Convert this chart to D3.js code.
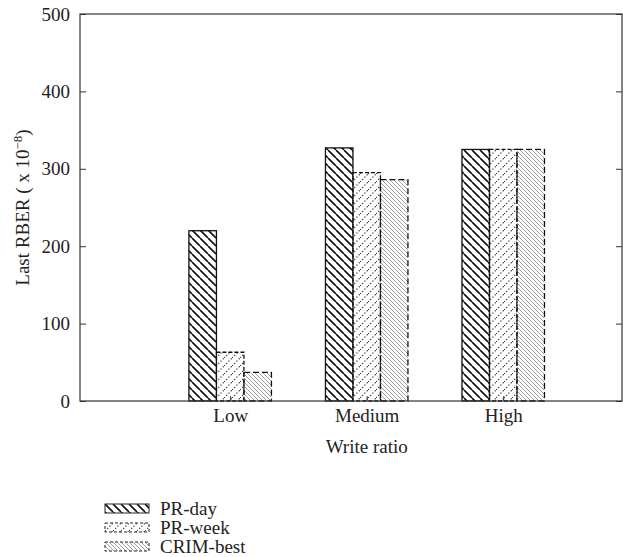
<!DOCTYPE html>
<html>
<head>
<meta charset="utf-8">
<script src="https://cdn.jsdelivr.net/npm/d3@7"></script>
<style>
  body { margin: 0; background: #fff; }
  text { font-family: "Liberation Serif", "DejaVu Serif", serif; fill: #222; }
</style>
</head>
<body>
<svg width="623" height="557"></svg>
<script>
// Data
var categories = ['Low', 'Medium', 'High']
var series = ['PR-day', 'PR-week', 'CRIM-best']
var prDay = [220, 327, 325]
var prWeek = [63, 295, 325]
var crimBest = [37, 286, 325]
var yTicks = [0, 100, 200, 300, 400, 500]

var values = [prDay, prWeek, crimBest]

var svg = d3.select('svg')
var margin = { left: 80, right: 1, top: 14, bottom: 156 }
var width = 623 - margin.left - margin.right
var height = 557 - margin.top - margin.bottom
var fs = '19px'

// Patterns
var defs = svg.append('defs')
function hatch(id, size, dir, stroke, sw, dash) {
  var p = defs.append('pattern')
    .attr('id', id)
    .attr('patternUnits', 'userSpaceOnUse')
    .attr('width', size)
    .attr('height', size)
  var d = dir === 'back'
    ? 'M0,0 L' + size + ',' + size + ' M-' + size + ',0 L0,' + size + ' M0,-' + size + ' L' + size + ',0'
    : 'M0,' + size + ' L' + size + ',0 M-' + size + ',' + size + ' L0,0 M0,' + 2 * size + ' L' + 2 * size + ',0'
  p.append('path')
    .attr('d', d)
    .attr('stroke', stroke)
    .attr('stroke-width', sw)
    .attr('stroke-dasharray', dash || null)
    .attr('fill', 'none')
}
hatch('p0', 8, 'back', '#111', 1.6)
hatch('p1', 8, 'fwd', '#333', 1.2, '1.2,2')
hatch('p2', 4, 'back', '#888', 0.8)

var fills = ['url(#p0)', 'url(#p1)', 'url(#p2)']
var borders = [null, '4,2', '6,3']

var g = svg.append('g').attr('transform', 'translate(' + margin.left + ',' + margin.top + ')')

// Scales
var x = d3.scaleLinear().domain([-0.1, 3.87]).range([0, width])
var xCat = function(i) { return x(i + 1) }
var y = d3.scaleLinear().domain([0, 500]).range([height, 0])
var barW = 27.5

// Bars
categories.forEach(function(c, i) {
  var grp = g.append('g')
  grp.selectAll('rect')
    .data(values.map(function(v, s) { return { s: s, v: v[i] } }))
    .enter()
    .append('rect')
    .attr('x', function(d) { return xCat(i) - 1.5 * barW + d.s * barW })
    .attr('y', function(d) { return y(d.v) })
    .attr('width', barW)
    .attr('height', function(d) { return height - y(d.v) })
    .attr('fill', function(d) { return fills[d.s] })
    .attr('stroke', '#111')
    .attr('stroke-width', 1.3)
    .attr('stroke-dasharray', function(d) { return borders[d.s] })
})

// Frame
g.append('rect')
  .attr('width', width)
  .attr('height', height)
  .attr('fill', 'none')
  .attr('stroke', '#333')
  .attr('stroke-width', 1.2)

// Axes
var yAxis = d3.axisLeft(y).tickValues(yTicks).tickSize(-6).tickPadding(10)
var ga = g.append('g').call(yAxis)
ga.select('.domain').remove()
ga.selectAll('text').style('font-size', fs).attr('fill', '#222')
ga.selectAll('line').attr('stroke', '#333')

var yAxisR = d3.axisRight(y).tickValues(yTicks).tickSize(-6).tickFormat('')
var gr = g.append('g').attr('transform', 'translate(' + width + ',0)').call(yAxisR)
gr.select('.domain').remove()
gr.selectAll('line').attr('stroke', '#333')

var xAxis = d3.axisBottom(x).tickValues([1, 2, 3])
  .tickFormat(function(d) { return categories[d - 1] })
  .tickSize(-5).tickPadding(8)
var gx = g.append('g').attr('transform', 'translate(0,' + height + ')').call(xAxis)
gx.select('.domain').remove()
gx.selectAll('text').style('font-size', fs).attr('fill', '#222')
gx.selectAll('line').attr('stroke', '#333')

// Axis labels
g.append('text')
  .attr('x', xCat(1))
  .attr('y', height + 52)
  .attr('text-anchor', 'middle')
  .style('font-size', fs)
  .text('Write ratio')

var yl = svg.append('text')
  .attr('transform', 'translate(29,' + (margin.top + height / 2) + ') rotate(-90)')
  .attr('text-anchor', 'middle')
  .style('font-size', fs)
yl.append('tspan').text('Last RBER ( x 10')
yl.append('tspan').attr('dy', -7).style('font-size', '13px').text('\u22128')
yl.append('tspan').attr('dy', 7).text(')')

// Legend
var lg = svg.append('g').attr('transform', 'translate(105,504)')
var item = lg.selectAll('g')
  .data(series)
  .enter()
  .append('g')
  .attr('transform', function(d, i) { return 'translate(0,' + i * 19 + ')' })
item.append('rect')
  .attr('width', 44)
  .attr('height', 9)
  .attr('fill', function(d, i) { return fills[i] })
  .attr('stroke', '#222')
  .attr('stroke-width', 1)
  .attr('stroke-dasharray', function(d, i) { return i ? '3,2' : null })
item.append('text')
  .attr('x', 55)
  .attr('y', 11)
  .style('font-size', fs)
  .text(function(d) { return d })
</script>
</body>
</html>
